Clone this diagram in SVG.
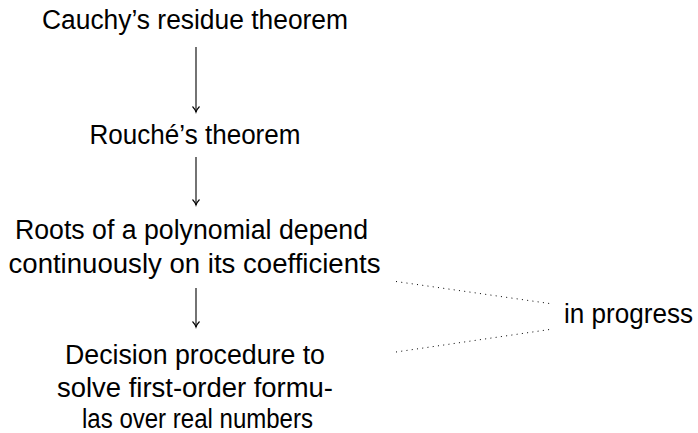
<svg xmlns="http://www.w3.org/2000/svg" width="698" height="433" viewBox="0 0 698 433">
<style>
text{font-family:"Liberation Sans",Arial,sans-serif;font-size:27px;fill:#000;text-anchor:middle}
.arr{stroke:#000;stroke-width:1.1;fill:none}
.dot{stroke:#000;stroke-width:1;fill:none;stroke-dasharray:1 4.3}
</style>
<defs>
<marker id="ah" markerWidth="10" markerHeight="10" refX="8" refY="5" orient="auto" markerUnits="userSpaceOnUse">
<path d="M2.5,1.5 Q5.5,4.3 8,5 Q5.5,5.7 2.5,8.5" stroke="#000" stroke-width="1.1" fill="none"/>
</marker>
</defs>
<g id="n1"><text x="195" y="29" textLength="306" lengthAdjust="spacingAndGlyphs">Cauchy’s residue theorem</text></g>
<g id="n2"><text x="195" y="144" textLength="211" lengthAdjust="spacingAndGlyphs">Rouché’s theorem</text></g>
<g id="n3"><text x="191.5" y="239" textLength="353" lengthAdjust="spacingAndGlyphs">Roots of a polynomial depend</text><text x="194.5" y="273" textLength="372" lengthAdjust="spacingAndGlyphs">continuously on its coefficients</text></g>
<g id="n4"><text x="195" y="364" textLength="260" lengthAdjust="spacingAndGlyphs">Decision procedure to</text><text x="195" y="397" textLength="276" lengthAdjust="spacingAndGlyphs">solve first-order formu-</text><text x="197.5" y="428" textLength="231" lengthAdjust="spacingAndGlyphs">las over real numbers</text></g>
<g id="n5"><text x="628.5" y="323" textLength="129" lengthAdjust="spacingAndGlyphs">in progress</text></g>
<g id="edges">
<line class="arr" x1="196" y1="47" x2="196" y2="112" marker-end="url(#ah)"/>
<line class="arr" x1="196" y1="157" x2="196" y2="205" marker-end="url(#ah)"/>
<line class="arr" x1="196" y1="288" x2="196" y2="327" marker-end="url(#ah)"/>
<line class="dot" x1="396" y1="281.5" x2="553" y2="304"/>
<line class="dot" x1="396" y1="352" x2="553" y2="329"/>
</g>
</svg>
